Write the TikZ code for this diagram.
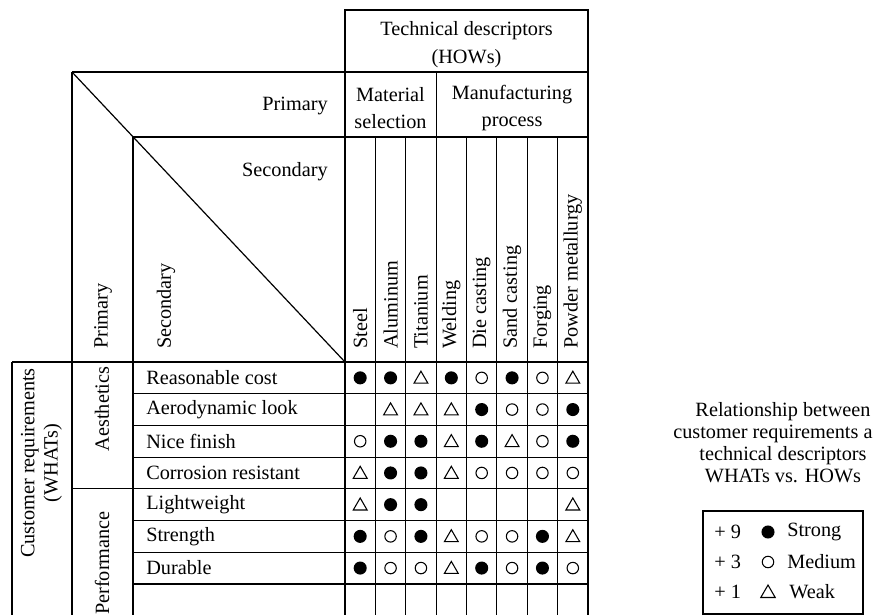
\documentclass[tikz,border=0pt]{standalone}
\usepackage{fontspec}
\setmainfont{Liberation Serif}
\usetikzlibrary{shapes.geometric}
\begin{document}
\begin{tikzpicture}[x=0.75pt,y=-0.75pt,
  grid/.style={line width=0.9pt},
  txt/.style={font=\fontsize{15.2}{20.5}\selectfont, inner sep=0pt, align=center},
  vtxt/.style={txt, rotate=90, anchor=west},
  symS/.style={circle, fill=black, minimum size=9.8pt, inner sep=0pt},
  symM/.style={circle, draw, line width=0.8pt, minimum size=8.6pt, inner sep=0pt},
  symW/.style={regular polygon, regular polygon sides=3, draw, line width=0.8pt,
               minimum size=12pt, inner sep=0pt, yshift=-1pt},
  symN/.style={shape=coordinate},
  legtxt/.style={font=\fontsize{15.2}{16.5}\selectfont, inner sep=0pt, align=center}]
\useasboundingbox (0,0) rectangle (873,615);

% ---- grid of the house of quality ----
\draw[grid] (345,10) rectangle (588,72);
\draw[grid] (72,72) -- (588,72);
\draw[grid] (133,137) -- (588,137);
\draw[grid] (12,362) -- (588,362);
\foreach \j in {1,2,3,5,6,7}
  \draw[grid] (133,{362+\j*31.7}) -- (588,{362+\j*31.7});
\draw[grid] (72,{362+4*31.7}) -- (588,{362+4*31.7});
\draw[grid] (12,362) -- (12,615);
\draw[grid] (72,72) -- (72,615);
\draw[grid] (133,137) -- (133,615);
\draw[grid] (345,10) -- (345,615);
\draw[grid] (436.1,72) -- (436.1,615);
\foreach \i in {1,2,4,5,6,7}
  \draw[grid] ({345+\i*30.375},137) -- ({345+\i*30.375},615);
\draw[grid] (588,10) -- (588,615);
\draw[grid] (72,72) -- (345,362);

% ---- headers ----
\node[txt] (hows) at (466.5,44.5) {Technical descriptors\\(HOWs)};
\node[txt, anchor=east] (prim) at (328,106) {Primary};
\node[txt, anchor=east] (sec) at (328,172) {Secondary};
\node[txt] (matsel) at (390.5,108) {Material\\selection};
\node[txt] (manuf) at (512,108) {Manufacturing\\process};
\node[vtxt] (vprim) at (103,349) {Primary};
\node[vtxt] (vsec) at (166,349) {Secondary};

\foreach \name [count=\i] in {Steel,Aluminum,Titanium,Welding,Die casting,Sand casting,Forging,Powder metallurgy}
  \node[vtxt] (col\i) at ({345+(\i-0.5)*30.375},349) {\name};

% ---- customer requirements ----
\node[txt, rotate=90, font=\fontsize{15.2}{17.5}\selectfont] (whats) at (41.5,463)
  {Customer requirements\\(WHATs)};
\node[txt, rotate=90] (aes) at (102,409) {Aesthetics};
\node[txt, rotate=90] (perf) at (102,563) {Performance};

\foreach \name [count=\j] in {Reasonable cost,Aerodynamic look,Nice finish,Corrosion resistant,Lightweight,Strength,Durable}
  \node[txt, anchor=west] (row\j) at (146,{362+(\j-0.5)*31.7}) {\name};

% ---- relationship matrix ----
\foreach \rowdata [count=\j] in {
  {S,S,W,S,M,S,M,W},
  {N,W,W,W,S,M,M,S},
  {M,S,S,W,S,W,M,S},
  {W,S,S,W,M,M,M,M},
  {W,S,S,N,N,N,N,W},
  {S,M,S,W,M,M,S,W},
  {S,M,M,W,S,M,S,M}}
  \foreach \c [count=\i] in \rowdata
    \node[sym\c] (m\j-\i) at ({345+(\i-0.5)*30.375},{362+(\j-0.5)*31.7}) {};

% ---- legend ----
\node[legtxt] (legtitle) at (783,442.5)
  {Relationship between\\customer requirements and\\technical descriptors\\WHATs vs. HOWs};
\draw[grid] (703,615) -- (703,511) -- (863,511) -- (863,615);
\draw[grid] (703,614) -- (863,614);
\node[legtxt, anchor=west] (p9) at (714,532) {+ 9};
\node[legtxt, anchor=west] (p3) at (714,562) {+ 3};
\node[legtxt, anchor=west] (p1) at (714,592) {+ 1};
\node[symS] (ls) at (768,532) {};
\node[symM] (lm) at (768,562) {};
\node[symW, minimum size=12.5pt] (lw) at (768,592) {};
\node[legtxt, anchor=west] (tS) at (787,532) {Strong};
\node[legtxt, anchor=west] (tM) at (787,562) {Medium};
\node[legtxt, anchor=west] (tW) at (789,592) {Weak};
\end{tikzpicture}
\end{document}
